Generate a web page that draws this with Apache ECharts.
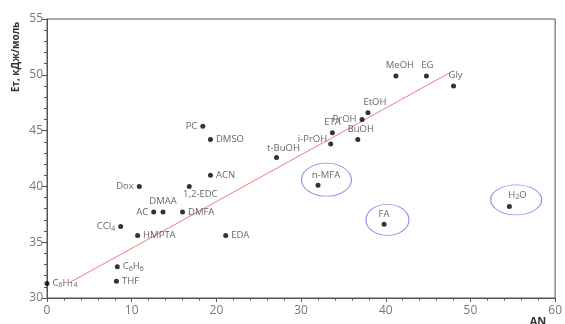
<!DOCTYPE html>
<html><head><meta charset="utf-8">
<script src="https://cdn.jsdelivr.net/npm/echarts@6/dist/echarts.min.js"></script>
<style>html,body{margin:0;padding:0;background:#fff}#c{width:565px;height:324px}</style>
</head><body><div id="c"></div>
<script>
const names = ['C{s|6}H{s|14}','THF','C{s|6}H{s|6}','CCl{s|4}','HMPTA','Dox','AC','DMAA','DMFA','1,2-EDC','PC','DMSO','ACN','EDA','t-BuOH','n-MFA','i-PrOH','ETA','BuOH','PrOH','EtOH','FA','MeOH','EG','Gly','H{s|2}O'];
const an = [0, 8.2, 8.3, 8.7, 10.7, 10.9, 12.6, 13.7, 16.0, 16.8, 18.4, 19.3, 19.3, 21.1, 27.1, 32.0, 33.5, 33.7, 36.7, 37.2, 37.9, 39.8, 41.2, 44.8, 48.0, 54.6];
const et = [31.3, 31.5, 32.8, 36.4, 35.6, 40.0, 37.7, 37.7, 37.7, 40.0, 45.4, 44.2, 41.0, 35.6, 42.6, 40.1, 43.8, 44.8, 44.2, 46.0, 46.6, 36.6, 49.9, 49.9, 49.0, 38.2];
const fitX = [2.6, 47.6];
const fitY = [31.35, 50.2];
const ringX = [33.0, 40.2, 55.4];
const ringY = [40.6, 37.0, 38.8];

// label placement (style, not data)
const place = {
  'C{s|6}H{s|14}':['right',[0,0]], 'THF':['right',[0,0]], 'C{s|6}H{s|6}':['right',[0,0]], 'CCl{s|4}':['left',[0,0]],
  'HMPTA':['right',[0,0]], 'Dox':['left',[0,0]], 'AC':['left',[0,0]], 'DMAA':['top',[0,0]],
  'DMFA':['right',[0,0]], '1,2-EDC':['bottom',[11,-3]], 'PC':['left',[0,0]], 'DMSO':['right',[0,0]],
  'ACN':['right',[0,0]], 'EDA':['right',[0,0]], 't-BuOH':['top',[7,1]], 'n-MFA':['top',[8,1]],
  'i-PrOH':['left',[2,-5]], 'ETA':['top',[0,0]], 'BuOH':['top',[3,0]], 'PrOH':['left',[0,0]],
  'EtOH':['top',[7,0]], 'FA':['top',[0,0]], 'MeOH':['top',[4,0]], 'EG':['top',[1,0]],
  'Gly':['top',[2,0]], 'H{s|2}O':['top',[8,0]]
};
const ringSizes = [[50,33],[43,31],[51,30]];

const pts = names.map((n,i)=>({
  value:[an[i], et[i]],
  label:{show:true, formatter:n, position:place[n][0], offset:place[n][1], distance:3}
}));

const chart = echarts.init(document.getElementById('c'), null, {renderer:'canvas'});
const lab = {color:'#777', fontSize:12, fontFamily:'Open Sans'};
chart.setOption({
  animation:false,
  grid:{left:47, right:6, top:19, bottom:26, show:true, borderColor:'#555', borderWidth:1},
  xAxis:{type:'value', min:0, max:60, interval:10,
    axisLine:{onZero:false, lineStyle:{color:'#555'}},
    axisTick:{show:true, length:4, lineStyle:{color:'#555'}},
    minorTick:{show:true, splitNumber:5, length:2.5, lineStyle:{color:'#555'}},
    splitLine:{show:false},
    axisLabel:{...lab, margin:7}},
  yAxis:{type:'value', min:30, max:55, interval:5,
    axisLine:{onZero:false, lineStyle:{color:'#555'}},
    axisTick:{show:true, length:5, lineStyle:{color:'#555'}},
    minorTick:{show:true, splitNumber:5, length:3, lineStyle:{color:'#555'}},
    splitLine:{show:false},
    axisLabel:{...lab, margin:4}},
  graphic:[
    {type:'text', x:16, y:57, rotation:Math.PI/2,
      style:{text:'Eт, кДж/моль', fontSize:10, fontWeight:'bold', fontFamily:'Open Sans', fill:'#333', textAlign:'center', textVerticalAlign:'middle'}},
    {type:'text', x:538, y:322,
      style:{text:'AN', fontSize:11, fontWeight:'bold', fontFamily:'Open Sans', fill:'#333', textAlign:'center', textVerticalAlign:'middle'}}
  ],
  series:[
    {type:'line', data:fitX.map((x,i)=>[x,fitY[i]]), symbol:'none',
      lineStyle:{color:'#f07a7a', width:1}, z:2},
    {type:'scatter', data:pts, symbol:'circle', symbolSize:5, clip:false,
      itemStyle:{color:'#000'},
      label:{color:'#404040', fontSize:9.5, fontFamily:'Open Sans',
        rich:{s:{fontSize:7, fontFamily:'Open Sans', color:'#404040', padding:[4,0,0,0]}}}, z:3},
    {type:'scatter', data:ringX.map((x,i)=>({value:[x, ringY[i]], symbolSize:ringSizes[i]})),
      symbol:'circle', clip:false,
      itemStyle:{color:'none', borderColor:'#7b7be6', borderWidth:1}, z:1}
  ]
});
</script></body></html>
